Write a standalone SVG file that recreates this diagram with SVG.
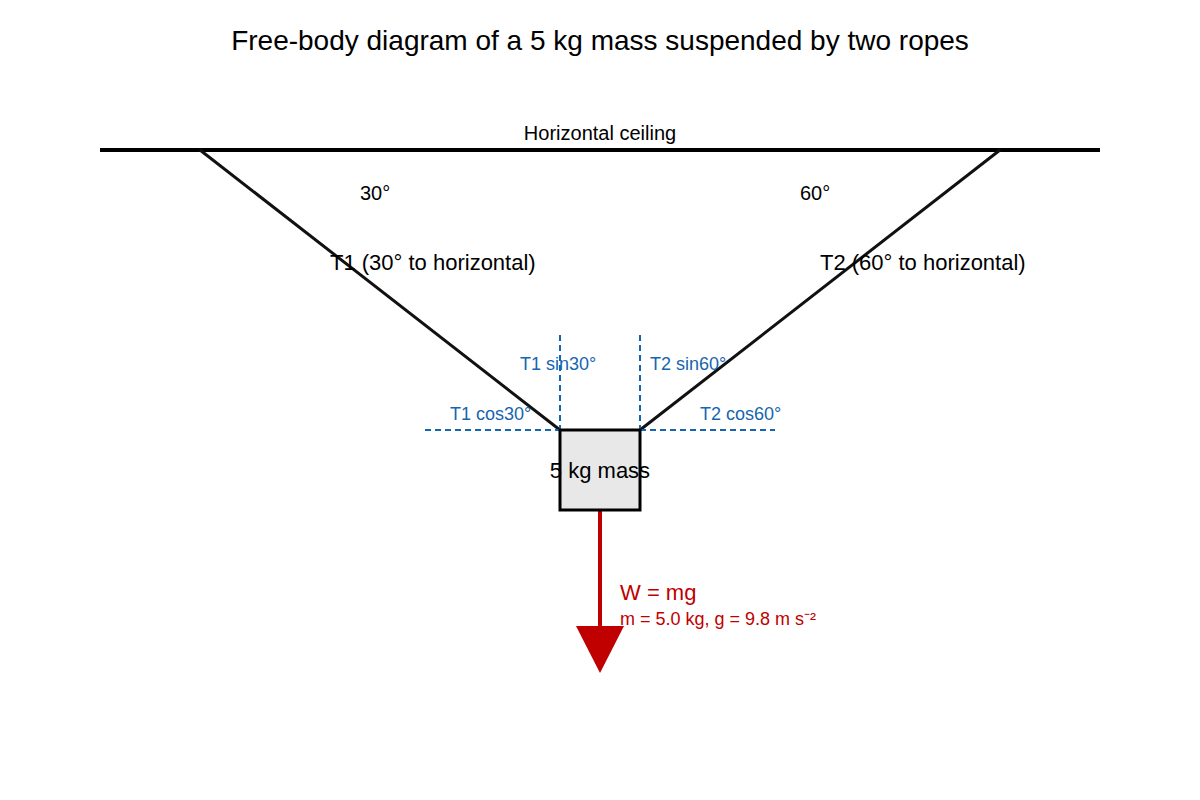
<svg xmlns="http://www.w3.org/2000/svg" width="1200" height="800" viewBox="0 0 1200 800">
<style>
text{font-family:"Liberation Sans",Arial,sans-serif}
.blk{fill:#000}
.blue{fill:#1565b0;font-size:18px}
.red{fill:#c00000}
.rope{stroke:#111;stroke-width:3;fill:none}
.dash{stroke:#1565b0;stroke-width:2;stroke-dasharray:6,4;fill:none}
</style>
<rect width="1200" height="800" fill="#fff"/>
<text x="600" y="50" font-size="28" text-anchor="middle" class="blk">Free-body diagram of a 5 kg mass suspended by two ropes</text>
<g id="ceiling">
<line x1="100" y1="150" x2="1100" y2="150" stroke="#000" stroke-width="4"/>
<text x="600" y="140" font-size="20" text-anchor="middle">Horizontal ceiling</text>
</g>
<g id="connectors">
<line class="rope" x1="200" y1="150" x2="560" y2="430"/>
<line class="rope" x1="1000" y1="150" x2="640" y2="430"/>
<line class="dash" x1="560" y1="335" x2="560" y2="430"/>
<line class="dash" x1="640" y1="335" x2="640" y2="430"/>
<line class="dash" x1="425" y1="430" x2="560" y2="430"/>
<line class="dash" x1="640" y1="430" x2="775" y2="430"/>
<line x1="600" y1="510" x2="600" y2="630" stroke="#c00000" stroke-width="4"/>
<polygon points="576,626 624,626 600,673" fill="#c00000"/>
</g>
<g id="labels">
<text x="360" y="200" font-size="20">30°</text>
<text x="800" y="200" font-size="20">60°</text>
<text x="330" y="270" font-size="22">T1 (30° to horizontal)</text>
<text x="820" y="270" font-size="22">T2 (60° to horizontal)</text>
<text x="520" y="370" class="blue">T1 sin30°</text>
<text x="650" y="370" class="blue">T2 sin60°</text>
<text x="450" y="420" class="blue">T1 cos30°</text>
<text x="700" y="420" class="blue">T2 cos60°</text>
<text x="620" y="600" font-size="22" class="red">W = mg</text>
<text x="620" y="625" font-size="18" class="red">m = 5.0 kg, g = 9.8 m s⁻²</text>
</g>
<g id="mass">
<rect x="560" y="430" width="80" height="80" fill="#e8e8e8" stroke="#000" stroke-width="3"/>
<text x="600" y="478" font-size="22" text-anchor="middle">5 kg mass</text>
</g>
</svg>
